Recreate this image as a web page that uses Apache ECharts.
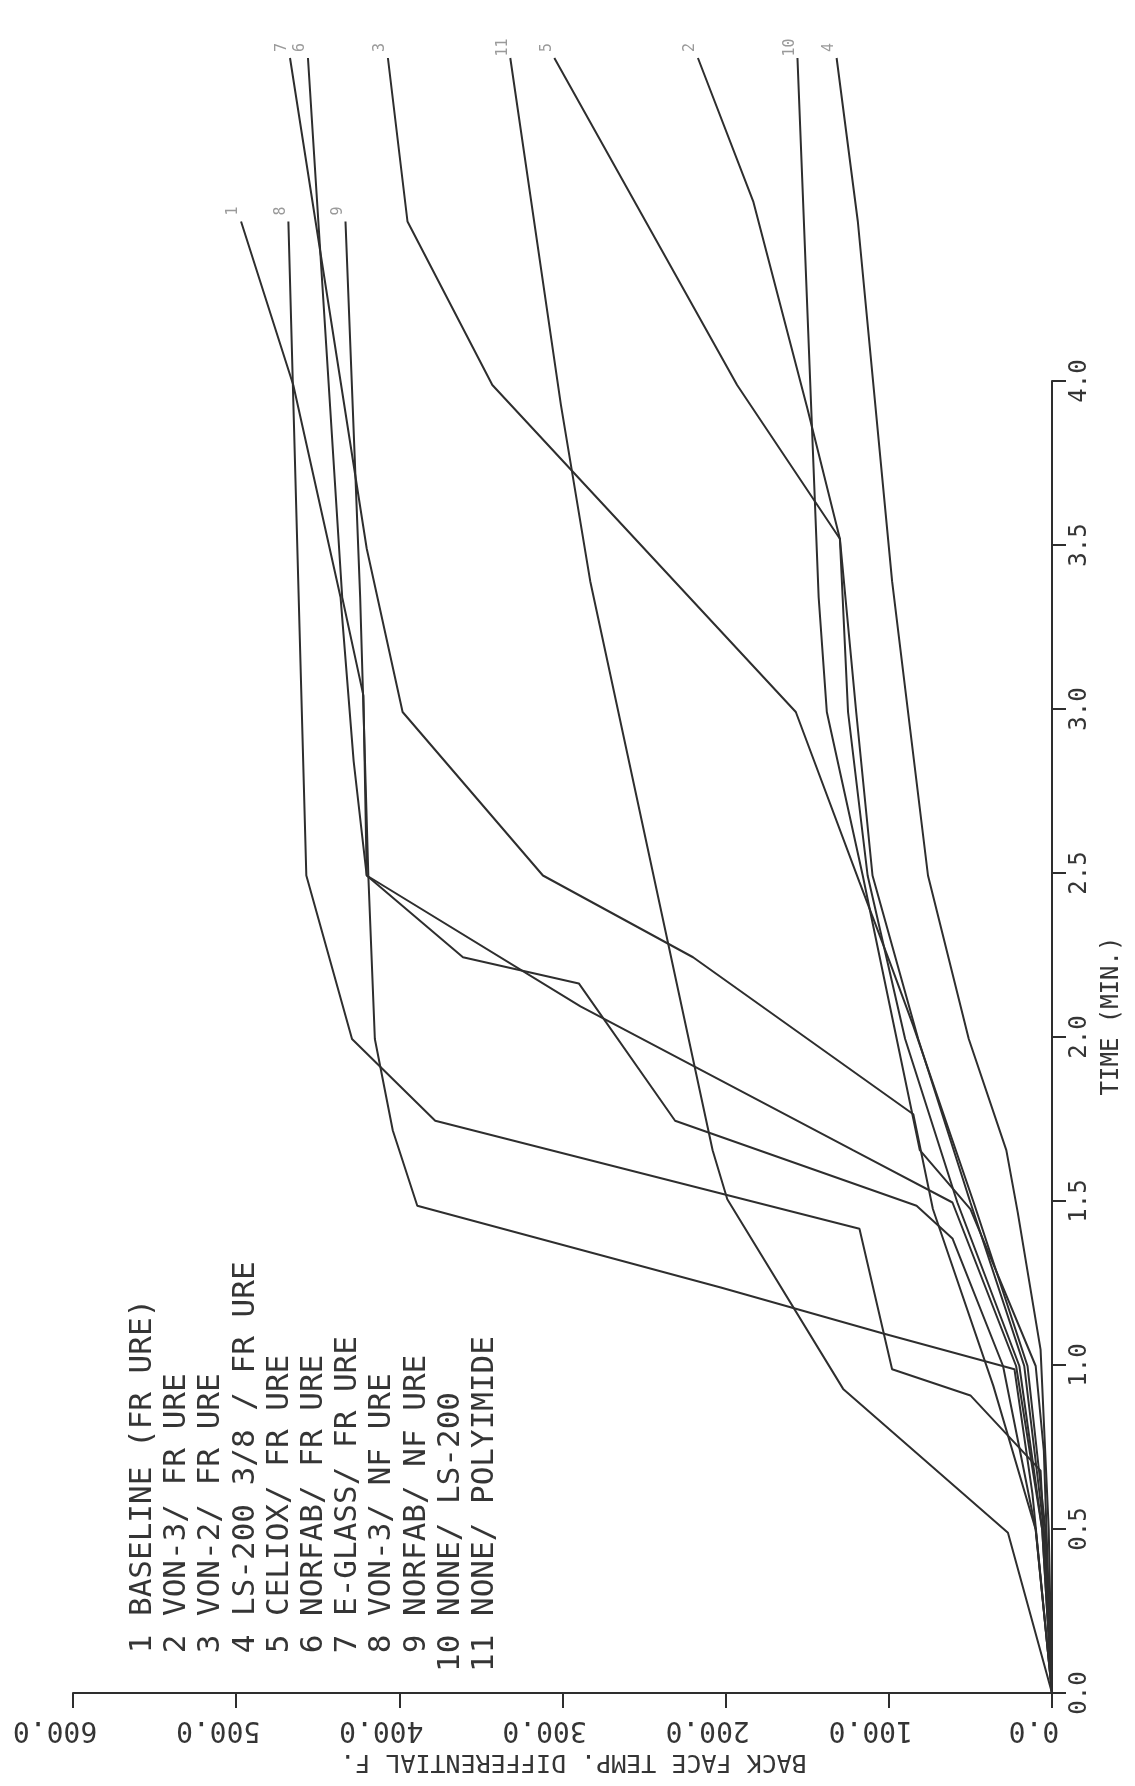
<!DOCTYPE html>
<html><head><meta charset="utf-8">
<script src="https://cdn.jsdelivr.net/npm/echarts@6/dist/echarts.min.js"></script>
<style>html,body{margin:0;padding:0;background:#fff}#c{width:1135px;height:1786px}</style>
</head><body><div id="c"></div>
<script>
// Legend entries (series names)
const legendLabels = [
  ' 1 BASELINE (FR URE)', ' 2 VON-3/ FR URE', ' 3 VON-2/ FR URE', ' 4 LS-200 3/8 / FR URE',
  ' 5 CELIOX/ FR URE', ' 6 NORFAB/ FR URE', ' 7 E-GLASS/ FR URE', ' 8 VON-3/ NF URE',
  ' 9 NORFAB/ NF URE', '10 NONE/ LS-200', '11 NONE/ POLYIMIDE'
];
const endTags = ['1','2','3','4','5','6','7','8','9','10','11'];

// Time (min) and back-face temperature differential (F) for each curve
const time1  = [0, 0.5, 1.0, 1.5, 1.66, 2.1, 2.5, 2.85, 3.35, 4.0, 4.5];
const temp1  = [0, 6, 22, 61, 122, 289, 420, 428, 436, 465, 497];
const time2  = [0, 0.5, 1.0, 1.5, 2.0, 2.5, 3.0, 3.53, 3.93, 4.56, 5.0];
const temp2  = [0, 5, 17, 50, 82, 110, 120, 130, 150, 183, 217];
const time3  = [0, 0.5, 1.0, 1.5, 2.04, 2.23, 2.48, 3.0, 4.0, 4.5, 5.0];
const temp3  = [0, 4, 15, 48, 85, 99, 118, 157, 343, 395, 407];
const time4  = [0, 0.5, 1.05, 1.47, 1.66, 2.0, 2.5, 3.4, 4.5, 5.0];
const temp4  = [0, 2, 7, 21, 28, 51, 76, 98, 119, 132];
const time5  = [0, 0.5, 1.0, 1.5, 2.0, 2.5, 3.0, 3.53, 4.0, 5.0];
const temp5  = [0, 6, 20, 58, 90, 113, 125, 130, 193, 305];
const time6  = [0, 0.5, 1.0, 1.39, 1.49, 1.75, 2.17, 2.25, 2.5, 3.05, 3.35, 5.0];
const temp6  = [0, 10, 30, 61, 83, 231, 290, 361, 420, 422, 435, 456];
const time7  = [0, 0.5, 0.94, 1.48, 1.77, 2.25, 2.5, 3.0, 3.5, 5.0];
const temp7  = [0, 10, 36, 73, 85, 220, 312, 398, 420, 467];
const time8  = [0, 0.68, 0.91, 0.99, 1.42, 1.75, 2.0, 2.5, 4.5];
const temp8  = [0, 7, 50, 98, 118, 378, 429, 457, 468];
const time9  = [0, 0.61, 0.99, 1.1, 1.24, 1.49, 1.72, 2.0, 2.5, 3.35, 4.5];
const temp9  = [0, 12, 23, 104, 203, 389, 404, 415, 419, 424, 433];
const time10 = [0, 0.74, 1.0, 1.48, 1.66, 2.5, 3.0, 3.35, 5.0];
const temp10 = [0, 5, 10, 50, 81, 116, 138, 143, 156];
const time11 = [0, 0.49, 0.93, 1.51, 1.66, 3.4, 3.94, 5.0];
const temp11 = [0, 27, 128, 199, 208, 283, 301, 332];

const allTimes = [time1,time2,time3,time4,time5,time6,time7,time8,time9,time10,time11];
const allTemps = [temp1,temp2,temp3,temp4,temp5,temp6,temp7,temp8,temp9,temp10,temp11];

const INK = '#2e2e2e';
const FONT = '"DejaVu Sans Mono", "Liberation Mono", monospace';

const series = allTimes.map((tArr, i) => {
  const tmp = allTemps[i];
  const last = tArr.length - 1;
  return {
    name: legendLabels[i].trim(), type: 'line', xAxisIndex: 0, yAxisIndex: 0,
    data: tArr.map((t, j) => [tmp[j], t]),
    showSymbol: false, symbol: 'none', animation: false, silent: true,
    lineStyle: { color: INK, width: 2 },
    markPoint: {
      silent: true, animation: false,
      symbol: 'circle', symbolSize: 1, itemStyle: { color: 'rgba(0,0,0,0)' },
      label: { show: true, position: 'top', distance: 10, rotate: 90,
        formatter: endTags[i], fontSize: 15, color: '#9a9a9a', fontFamily: FONT },
      data: [{ coord: [tmp[last], tArr[last]] }]
    }
  };
});

const legendGraphics = legendLabels.map((txt, i) => ({
  type: 'text', x: 143 + 34.2 * i, y: 1672, rotation: Math.PI / 2,
  style: { text: txt, font: '31px ' + FONT, fill: '#353535', align: 'left', verticalAlign: 'middle' }
}));

const chart = echarts.init(document.getElementById('c'), null, { renderer: 'canvas' });
chart.setOption({
  backgroundColor: '#ffffff',
  animation: false,
  grid: [
    { left: 73, right: 83, top: 58, bottom: 93 },
    { left: 73, right: 83, top: 381, bottom: 93 }
  ],
  xAxis: [
    { gridIndex: 0, type: 'value', min: 0, max: 600, interval: 100, inverse: true, position: 'bottom',
      axisLine: { show: true, lineStyle: { color: INK, width: 2 } },
      axisTick: { show: true, length: 15, lineStyle: { color: INK, width: 2 } },
      splitLine: { show: false },
      axisLabel: { rotate: 180, margin: 22, fontSize: 28, fontFamily: FONT, color: '#353535',
        padding: [0, 0, 0, 36], formatter: v => v.toFixed(1) },
      name: 'BACK FACE TEMP. DIFFERENTIAL F.', nameLocation: 'middle', nameRotate: 180, nameGap: 56,
      nameTextStyle: { fontSize: 25, fontFamily: FONT, color: '#353535', padding: [0, 22, 0, 0] } },
    { gridIndex: 1, type: 'value', min: 0, max: 600, inverse: true, show: false }
  ],
  yAxis: [
    { gridIndex: 0, type: 'value', min: 0, max: 5, show: false },
    { gridIndex: 1, type: 'value', min: 0, max: 4, interval: 0.5, position: 'right',
      axisLine: { show: true, lineStyle: { color: INK, width: 2 } },
      axisTick: { show: true, length: 14, lineStyle: { color: INK, width: 2 } },
      splitLine: { show: false },
      axisLabel: { rotate: 90, margin: 16, fontSize: 24, fontFamily: FONT, color: '#353535',
        formatter: v => v.toFixed(1) },
      name: 'TIME (MIN.)', nameLocation: 'middle', nameRotate: 90, nameGap: 46,
      nameTextStyle: { fontSize: 24, fontFamily: FONT, color: '#353535', padding: [0, 0, 0, 42] } }
  ],
  series,
  graphic: legendGraphics
});
</script>
</body></html>
